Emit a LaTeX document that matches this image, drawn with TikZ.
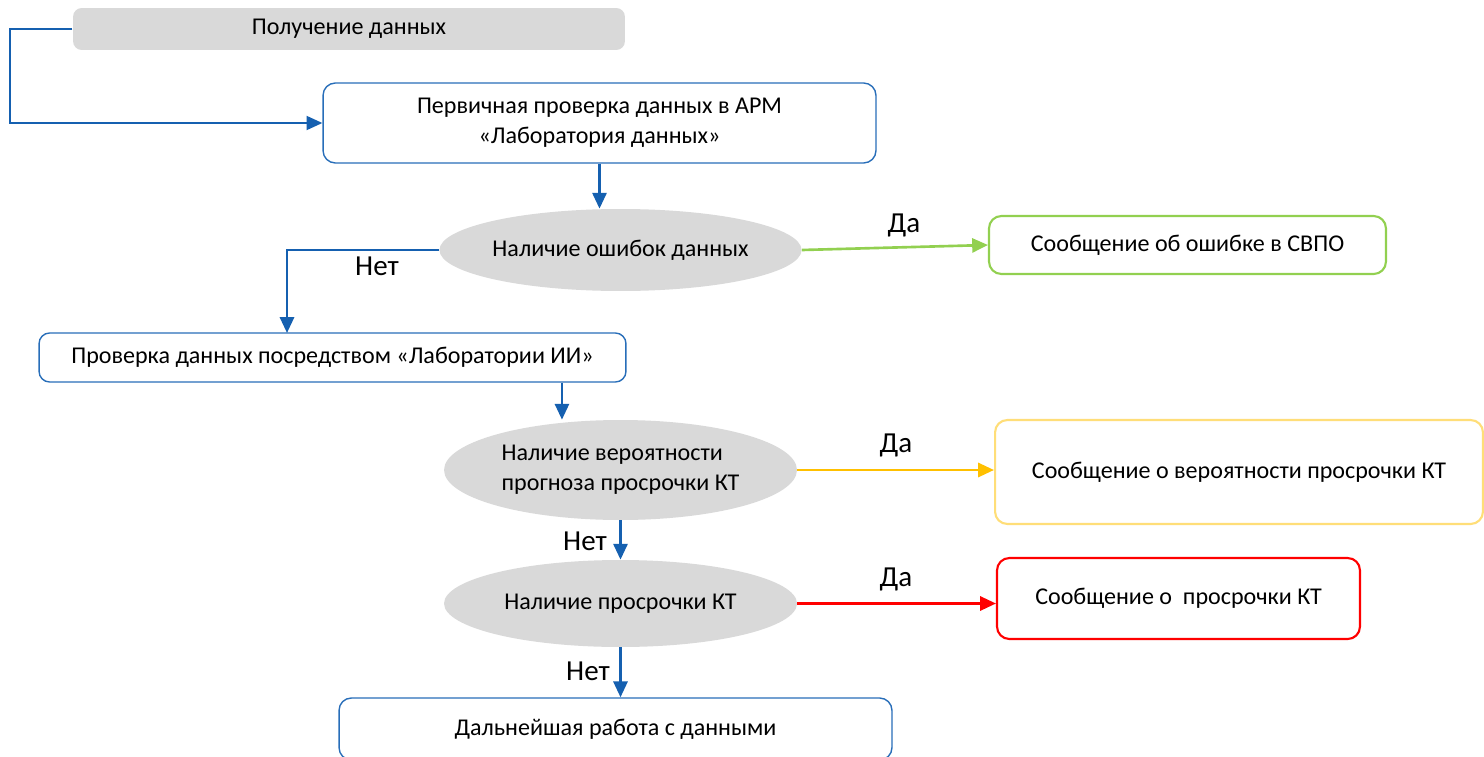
\documentclass[tikz,border=0pt]{standalone}
\usepackage{fontspec}
\setmainfont{Carlito}
\usetikzlibrary{shapes.geometric,arrows.meta}
\definecolor{lineblue}{RGB}{21,96,176}
\definecolor{boxblue}{RGB}{40,110,185}
\definecolor{okgreen}{RGB}{146,208,80}
\definecolor{warnyellow}{RGB}{255,192,0}
\definecolor{paleyellow}{RGB}{255,222,120}
\definecolor{alarmred}{RGB}{255,0,0}
\definecolor{shade}{RGB}{217,217,217}
\tikzset{
  flow/.style={draw=lineblue, line width=1.5pt, -{Triangle[length=9pt,width=8pt]}},
  stepbox/.style={draw=boxblue, line width=0.8pt, rounded corners=7pt, fill=white,
    align=center, inner sep=0pt, font=\fontsize{13.7}{17}\selectfont},
  msgbox/.style={stepbox, line width=1.2pt},
  ask/.style={ellipse, fill=shade, inner sep=0pt, align=center,
    minimum width=7.06cm, font=\fontsize{13.7}{17}\selectfont},
  answer/.style={font=\fontsize{16.5}{18}\selectfont}
}

\begin{document}
\begin{tikzpicture}[x=0.02cm,y=-0.02cm]
\useasboundingbox (0,0) rectangle (1484,757);
\clip (0,0) rectangle (1484,757);
\fill[white] (0,0) rectangle (1484,757);

% main line
\node[stepbox, draw=none, fill=shade, rounded corners=5pt, minimum width=11.04cm, minimum height=0.84cm] (get) at (349,29) {Получение данных};
\node[stepbox, minimum width=11.06cm, minimum height=1.6cm] (check1) at (599.5,123) {Первичная проверка данных в АРМ\\«Лаборатория данных»};
\node[ask, minimum height=1.64cm] (err) at (620.5,250) {Наличие ошибок данных};
\node[stepbox, minimum width=11.74cm, minimum height=0.98cm, rounded corners=6pt] (check2) at (332.5,357.5) {Проверка данных посредством «Лаборатории ИИ»};
\node[ask, minimum height=2cm, align=left] (prob) at (620.5,470) {Наличие вероятности\\прогноза просрочки КТ};
\node[ask, minimum height=1.74cm] (late) at (620.5,603.5) {Наличие просрочки КТ};
\node[stepbox, minimum width=11.06cm, minimum height=1.24cm] (final) at (615.5,729) {Дальнейшая работа с данными};

% messages
\node[msgbox, draw=okgreen, minimum width=7.94cm, minimum height=1.16cm] (msg1) at (1187.5,245) {Сообщение об ошибке в СВПО};
\node[msgbox, draw=paleyellow, minimum width=9.76cm, minimum height=2.08cm] (msg2) at (1239,472) {Сообщение о вероятности просрочки КТ};
\node[msgbox, draw=alarmred, minimum width=7.26cm, minimum height=1.62cm] (msg3) at (1178.5,598.5) {Сообщение о\ \ просрочки КТ};

\coordinate (bend) at (10,29);
\coordinate (nobend) at (287,333);
\draw[flow, line width=1pt] (get.west) -- (bend) |- (check1.west);
\draw[flow] (check1.south) -- (check1.south |- err.north);
\draw[flow] (err.west) -| (nobend);
\node[answer] at (377,266) {Нет};
\draw[flow, draw=okgreen] (err.east) -- (msg1.west);
\node[answer] at (904,225) {Да};
\draw[flow] ([xshift=4.59cm]check2.south) -- ([xshift=4.59cm]check2.south |- prob.north);
\draw[flow, draw=warnyellow] (prob.east) -- (msg2.west |- prob.east);
\node[answer] at (896,445) {Да};
\draw[flow] (prob.south) -- (late.north);
\node[answer] at (585,541) {Нет};
\draw[flow, draw=alarmred] (late.east) -- (msg3.west |- late.east);
\node[answer] at (896,579) {Да};
\draw[flow] (late.south) -- (late.south |- final.north);
\node[answer] at (588,671) {Нет};
\end{tikzpicture}
\end{document}
